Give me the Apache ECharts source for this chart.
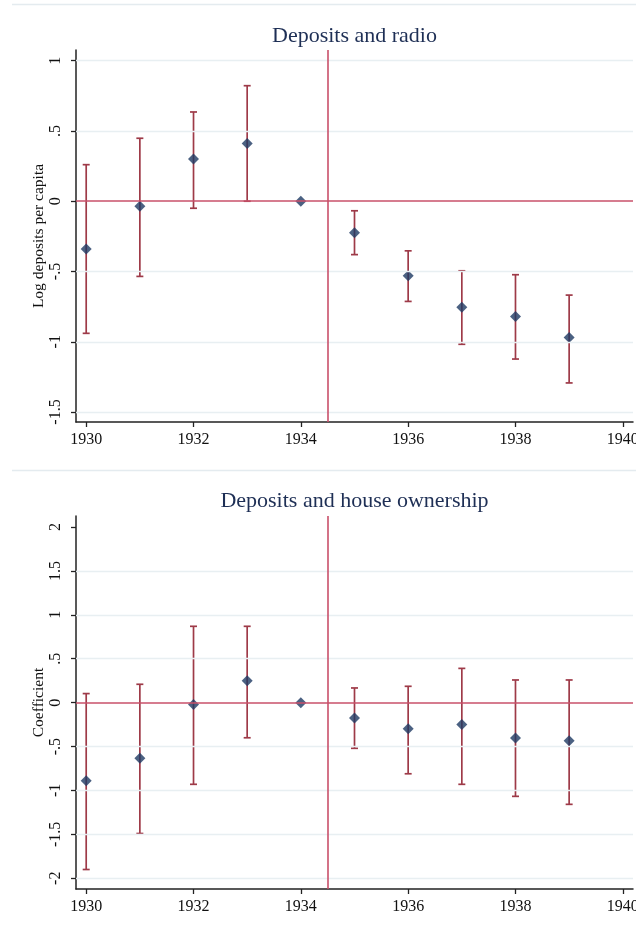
<!DOCTYPE html>
<html>
<head>
<meta charset="utf-8">
<title>Deposits event study</title>
<script src="https://cdn.jsdelivr.net/npm/echarts@6/dist/echarts.min.js"></script>
<style>
  html, body { margin: 0; padding: 0; background: #fff; }
  #chart { width: 636px; height: 932px; }
</style>
</head>
<body>
<div id="chart"></div>
<script>
// Event-study coefficients with 95% confidence intervals, 1934 is the omitted year
const years = [1930, 1931, 1932, 1933, 1934, 1935, 1936, 1937, 1938, 1939];

const radioCoef = [-0.34, -0.035, 0.30, 0.41, 0.0, -0.225, -0.53, -0.755, -0.82, -0.97];
const radioLow  = [-0.94, -0.535, -0.05, 0.0, 0.0, -0.38, -0.713, -1.018, -1.123, -1.293];
const radioHigh = [0.26, 0.448, 0.635, 0.822, 0.0, -0.068, -0.353, -0.495, -0.523, -0.668];

const houseCoef = [-0.89, -0.634, -0.02, 0.25, 0.0, -0.175, -0.296, -0.25, -0.402, -0.433];
const houseLow  = [-1.90, -1.49, -0.93, -0.40, 0.0, -0.52, -0.81, -0.93, -1.067, -1.158];
const houseHigh = [0.103, 0.209, 0.869, 0.869, 0.0, 0.167, 0.186, 0.39, 0.258, 0.258];

const yearTicks = [1930, 1932, 1934, 1936, 1938, 1940];
const radioTicks = [-1.5, -1, -0.5, 0, 0.5, 1];
const houseTicks = [-2, -1.5, -1, -0.5, 0, 0.5, 1, 1.5, 2];
const radioGridLines = [-1.5, -1, -0.5, 0.5, 1];
const houseGridLines = [-2, -1.5, -1, -0.5, 0.5, 1, 1.5];
const eventLine = 1934.5;

const titles = ['Deposits and radio', 'Deposits and house ownership'];
const yNames = ['Log deposits per capita', 'Coefficient'];

const SERIF = '"Liberation Serif", "Times New Roman", serif';
const COL_POINT = '#1e3a63';
const COL_CI = '#9e3a48';
const COL_REF = '#c9506a';
const COL_GRID = '#e8eff2';

// Stata-style tick text: ".5", "-.5", "1.5"
function fmtTick(v) {
  if (v === 0) return '0';
  const s = String(Math.abs(v)).replace(/^0\./, '.');
  return (v < 0 ? '-' : '') + s;
}

function ciData(lo, hi) {
  return years.map((y, i) => [y, lo[i], hi[i]]);
}

function renderCI(params, api) {
  const x = api.value(0);
  const lo = api.coord([x, api.value(1)]);
  const hi = api.coord([x, api.value(2)]);
  if (Math.abs(lo[1] - hi[1]) < 0.5) return null;
  const cap = 3.5;
  const style = { stroke: COL_CI, lineWidth: 1.7, fill: null };
  return {
    type: 'group',
    children: [
      { type: 'line', shape: { x1: lo[0], y1: lo[1], x2: hi[0], y2: hi[1] }, style },
      { type: 'line', shape: { x1: hi[0] - cap, y1: hi[1], x2: hi[0] + cap, y2: hi[1] }, style },
      { type: 'line', shape: { x1: lo[0] - cap, y1: lo[1], x2: lo[0] + cap, y2: lo[1] }, style }
    ]
  };
}

const gridBoxes = [
  { left: 76, top: 50, width: 557, height: 372, outerBoundsMode: 'none', containLabel: false },
  { left: 76, top: 516, width: 557, height: 373, outerBoundsMode: 'none', containLabel: false }
];
const yRanges = [[-1.571, 1.076], [-2.122, 2.125]];
const yTickSets = [radioTicks, houseTicks];
const gridLineSets = [radioGridLines, houseGridLines];
const panels = [
  { coef: radioCoef, lo: radioLow, hi: radioHigh },
  { coef: houseCoef, lo: houseLow, hi: houseHigh }
];

const option = {
  backgroundColor: '#fff',
  animation: false,
  title: titles.map((t, i) => ({
    text: t,
    left: gridBoxes[i].left + gridBoxes[i].width / 2 - 5,
    top: i === 0 ? 20 : 485,
    textAlign: 'center',
    textStyle: { fontFamily: SERIF, fontSize: 22, fontWeight: 'normal', color: '#1e2f55' }
  })),
  graphic: [
    { type: 'line', shape: { x1: 12, y1: 4.5, x2: 636, y2: 4.5 }, style: { stroke: '#e4ebef', lineWidth: 1.5 } },
    { type: 'line', shape: { x1: 12, y1: 470.5, x2: 636, y2: 470.5 }, style: { stroke: '#e4ebef', lineWidth: 1.5 } }
  ],
  grid: gridBoxes,
  xAxis: gridBoxes.map((g, i) => ({
    type: 'value',
    gridIndex: i,
    min: 1929.81,
    max: 1940.19,
    splitLine: { show: false },
    axisLine: { show: true, onZero: false, lineStyle: { color: '#222', width: 1.5 } },
    axisTick: { show: true, customValues: yearTicks, length: 5, lineStyle: { color: '#222', width: 1.3 } },
    axisLabel: {
      customValues: yearTicks,
      formatter: v => String(v),
      fontFamily: SERIF, fontSize: 16, color: '#111', margin: 10
    }
  })),
  yAxis: gridBoxes.map((g, i) => ({
    type: 'value',
    gridIndex: i,
    min: yRanges[i][0],
    max: yRanges[i][1],
    name: yNames[i],
    nameLocation: 'middle',
    nameGap: 29,
    nameMoveOverlap: false,
    nameRotate: 90,
    nameTextStyle: { fontFamily: SERIF, fontSize: 15.5, color: '#111' },
    splitLine: { show: false },
    axisLine: { show: true, onZero: false, lineStyle: { color: '#222', width: 1.5 } },
    axisTick: { show: true, customValues: yTickSets[i], length: 5, lineStyle: { color: '#222', width: 1.3 } },
    axisLabel: {
      customValues: yTickSets[i],
      formatter: fmtTick,
      rotate: 90,
      fontFamily: SERIF, fontSize: 16, color: '#111', margin: 12
    }
  })),
  series: []
};

panels.forEach((p, i) => {
  // light horizontal gridlines
  option.series.push({
    type: 'line',
    xAxisIndex: i, yAxisIndex: i,
    data: [],
    silent: true,
    z: 0,
    markLine: {
      silent: true,
      symbol: ['none', 'none'],
      label: { show: false },
      lineStyle: { color: COL_GRID, width: 1.3, type: 'solid' },
      data: gridLineSets[i].map(v => ({ yAxis: v }))
    }
  });
  // reference lines: zero effect and the 1934/35 break
  option.series.push({
    type: 'line',
    xAxisIndex: i, yAxisIndex: i,
    data: [],
    silent: true,
    z: 1,
    markLine: {
      silent: true,
      symbol: ['none', 'none'],
      label: { show: false },
      lineStyle: { color: COL_REF, width: 1.6, type: 'solid' },
      data: [{ yAxis: 0 }, { xAxis: eventLine }]
    }
  });
  // confidence intervals
  option.series.push({
    type: 'custom',
    xAxisIndex: i, yAxisIndex: i,
    renderItem: renderCI,
    encode: { x: 0, y: [1, 2] },
    data: ciData(p.lo, p.hi),
    z: 2
  });
  // point estimates
  option.series.push({
    type: 'scatter',
    xAxisIndex: i, yAxisIndex: i,
    symbol: 'diamond',
    symbolSize: 11,
    itemStyle: { color: COL_POINT },
    data: years.map((y, k) => [y, p.coef[k]]),
    z: 3
  });
});

const chart = echarts.init(document.getElementById('chart'), null, { renderer: 'canvas' });
chart.setOption(option);
</script>
</body>
</html>
